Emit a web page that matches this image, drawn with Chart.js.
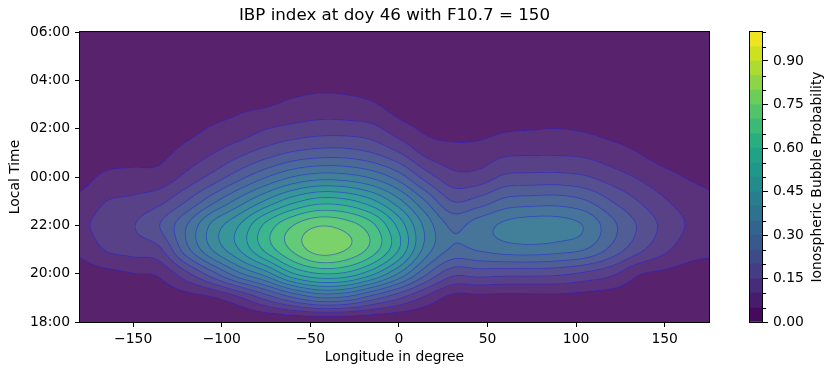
<!DOCTYPE html>
<html>
<head>
<meta charset="utf-8">
<script src="https://cdn.jsdelivr.net/npm/chart.js"></script>
<style>
  html, body { margin: 0; padding: 0; background: #fff; }
  #wrap { position: relative; width: 833px; height: 375px; }
  #main { position: absolute; left: 0; top: 0; }
  #cbar { position: absolute; left: 740px; top: 0; }
</style>
</head>
<body>
<div id="wrap">
  <canvas id="main" width="833" height="375"></canvas>
  <canvas id="cbar" width="93" height="375"></canvas>
</div>
<script>
'use strict';

// grid of the probability field: longitude columns, local time rows (hours, 24 = midnight)
const lonGrid = [-180, -165, -150, -135, -120, -105, -90, -75, -60, -45, -30, -15, 0,
                 15, 30, 45, 60, 75, 90, 105, 120, 135, 150, 165, 180];
const ltGrid = [18, 19, 20, 21, 22, 23, 24, 25, 26, 27, 28, 29, 30];

// bubble probability per local-time row, one value per longitude in lonGrid
const p18 = [0.015, 0.015, 0.015, 0.015, 0.01, 0.01, 0.005, 0.0, 0.0, 0.0, 0.0, 0.0, 0.0, 0.005, 0.015, 0.015, 0.015, 0.015, 0.015, 0.015, 0.015, 0.015, 0.015, 0.015, 0.015];
const p19 = [0.02, 0.025, 0.03, 0.025, 0.03, 0.045, 0.093, 0.168, 0.243, 0.297, 0.286, 0.222, 0.157, 0.088, 0.035, 0.035, 0.033, 0.034, 0.035, 0.03, 0.025, 0.025, 0.02, 0.02, 0.02];
const p20 = [0.03, 0.038, 0.049, 0.059, 0.136, 0.233, 0.34, 0.426, 0.544, 0.598, 0.587, 0.512, 0.394, 0.26, 0.165, 0.17, 0.165, 0.165, 0.16, 0.14, 0.11, 0.055, 0.04, 0.03, 0.03];
const p21 = [0.061, 0.104, 0.12, 0.141, 0.281, 0.404, 0.501, 0.614, 0.708, 0.773, 0.751, 0.678, 0.549, 0.38, 0.292, 0.305, 0.325, 0.33, 0.32, 0.30, 0.235, 0.165, 0.11, 0.07, 0.06];
const p22 = [0.088, 0.125, 0.147, 0.2, 0.297, 0.415, 0.501, 0.614, 0.698, 0.746, 0.727, 0.662, 0.533, 0.385, 0.29, 0.325, 0.36, 0.375, 0.372, 0.345, 0.265, 0.195, 0.135, 0.092, 0.08];
const p23 = [0.061, 0.1, 0.111, 0.136, 0.2, 0.286, 0.372, 0.458, 0.533, 0.576, 0.566, 0.512, 0.415, 0.30, 0.20, 0.22, 0.265, 0.275, 0.277, 0.255, 0.20, 0.15, 0.105, 0.075, 0.058];
const p24 = [0.035, 0.059, 0.066, 0.069, 0.114, 0.168, 0.233, 0.297, 0.351, 0.378, 0.372, 0.34, 0.276, 0.18, 0.118, 0.12, 0.16, 0.165, 0.166, 0.155, 0.125, 0.095, 0.065, 0.045, 0.035];
const p25 = [0.025, 0.03, 0.03, 0.038, 0.066, 0.098, 0.136, 0.174, 0.206, 0.222, 0.222, 0.2, 0.152, 0.087, 0.067, 0.07, 0.09, 0.093, 0.093, 0.088, 0.07, 0.05, 0.03, 0.025, 0.025];
const p26 = [0.02, 0.02, 0.02, 0.025, 0.035, 0.055, 0.071, 0.098, 0.114, 0.125, 0.125, 0.114, 0.071, 0.042, 0.035, 0.035, 0.045, 0.048, 0.05, 0.045, 0.035, 0.03, 0.02, 0.02, 0.02];
const p27 = [0.015, 0.015, 0.015, 0.015, 0.02, 0.03, 0.04, 0.045, 0.06, 0.068, 0.065, 0.055, 0.03, 0.03, 0.025, 0.025, 0.03, 0.03, 0.03, 0.03, 0.025, 0.02, 0.015, 0.015, 0.015];
const p28 = [0.01, 0.01, 0.01, 0.01, 0.015, 0.02, 0.02, 0.025, 0.03, 0.035, 0.035, 0.03, 0.02, 0.02, 0.02, 0.02, 0.02, 0.02, 0.02, 0.02, 0.02, 0.015, 0.01, 0.01, 0.01];
const p29 = [0.01, 0.01, 0.01, 0.01, 0.01, 0.01, 0.015, 0.015, 0.02, 0.02, 0.02, 0.02, 0.015, 0.015, 0.015, 0.015, 0.015, 0.015, 0.015, 0.015, 0.015, 0.01, 0.01, 0.01, 0.01];
const p30 = [0.01, 0.01, 0.01, 0.01, 0.01, 0.01, 0.01, 0.01, 0.015, 0.015, 0.015, 0.015, 0.01, 0.01, 0.01, 0.01, 0.01, 0.01, 0.01, 0.01, 0.01, 0.01, 0.01, 0.01, 0.01];
const probRows = [p18, p19, p20, p21, p22, p23, p24, p25, p26, p27, p28, p29, p30];

const contourLevels = [0.00, 0.05, 0.10, 0.15, 0.20, 0.25, 0.30, 0.35, 0.40, 0.45, 0.50,
                       0.55, 0.60, 0.65, 0.70, 0.75, 0.80, 0.85, 0.90, 0.95, 1.00];

const xTicks = [-150, -100, -50, 0, 50, 100, 150];
const ltTicks = [18, 20, 22, 24, 26, 28, 30];
const ltTickLabels = ['18:00', '20:00', '22:00', '00:00', '02:00', '04:00', '06:00'];
const cbTicks = [0.00, 0.15, 0.30, 0.45, 0.60, 0.75, 0.90];

const titleText = 'IBP index at doy 46 with F10.7 = 150';

// viridis, sampled every 0.05
const viridisStops = ['#440154', '#471365', '#482475', '#463480', '#414487', '#3b528b', '#355f8d',
  '#2f6c8e', '#2a788e', '#25848e', '#21918c', '#1e9c89', '#22a884', '#2fb47c', '#44bf70',
  '#5ec962', '#7ad151', '#9bd93c', '#bddf26', '#dfe318', '#fde725'];

const FILL_ALPHA = 0.9;
const LINE_RGB = [30, 30, 225];
const LINE_ALPHA = 0.55;
const LINE_WIDTH = 0.8;
const FONT = "'DejaVu Sans', sans-serif";

Chart.defaults.font.family = FONT;
Chart.defaults.color = '#000';

const hexToRgb = h => [1, 3, 5].map(i => parseInt(h.slice(i, i + 2), 16));

function viridis(t) {
    const f = Math.min(Math.max(t, 0), 1) * (viridisStops.length - 1);
    const i = Math.min(Math.floor(f), viridisStops.length - 2);
    const a = hexToRgb(viridisStops[i]), b = hexToRgb(viridisStops[i + 1]);
    const u = f - i;
    return a.map((c, k) => c + (b[k] - c) * u);
}

const nBands = contourLevels.length - 1;
const lo = contourLevels[0], hi = contourLevels[nBands];
const bandRgb = [];
for (let i = 0; i < nBands; i++) {
    const mid = (contourLevels[i] + contourLevels[i + 1]) / 2;
    bandRgb.push(viridis((mid - lo) / (hi - lo)));
}
const bandCss = bandRgb.map(c => `rgb(${c.map(Math.round).join(',')})`);
// the filled contours are slightly transparent over white
const bandFill = bandRgb.map(c => c.map(v => v * FILL_ALPHA + 255 * (1 - FILL_ALPHA)));

function catmull(p0, p1, p2, p3, t) {
    const t2 = t * t, t3 = t2 * t;
    return 0.5 * (2 * p1 + (p2 - p0) * t + (2 * p0 - 5 * p1 + 4 * p2 - p3) * t2 + (3 * p1 - p0 - 3 * p2 + p3) * t3);
}

function sampleField(lon, lt) {
    const nx = lonGrid.length, ny = ltGrid.length;
    const fx = (lon - lonGrid[0]) / (lonGrid[1] - lonGrid[0]);
    const fy = (lt - ltGrid[0]) / (ltGrid[1] - ltGrid[0]);
    const ix = Math.min(Math.max(Math.floor(fx), 0), nx - 2);
    const iy = Math.min(Math.max(Math.floor(fy), 0), ny - 2);
    const tx = fx - ix, ty = fy - iy;
    const cx = k => Math.min(Math.max(k, 0), nx - 1);
    const cy = k => Math.min(Math.max(k, 0), ny - 1);
    const col = [];
    for (let j = -1; j <= 2; j++) {
        const r = probRows[cy(iy + j)];
        col.push(catmull(r[cx(ix - 1)], r[cx(ix)], r[cx(ix + 1)], r[cx(ix + 2)], tx));
    }
    return catmull(col[0], col[1], col[2], col[3], ty);
}

const contourPlugin = {
    id: 'contourField',
    beforeDatasetsDraw(chart) {
        const { ctx, chartArea: a, scales: { x, y } } = chart;
        const w = Math.round(a.right - a.left), h = Math.round(a.bottom - a.top);
        const vals = new Float32Array(w * h);
        for (let j = 0; j < h; j++) {
            const lt = y.getValueForPixel(a.top + j + 0.5);
            for (let i = 0; i < w; i++) {
                vals[j * w + i] = sampleField(x.getValueForPixel(a.left + i + 0.5), lt);
            }
        }
        const off = document.createElement('canvas');
        off.width = w; off.height = h;
        const octx = off.getContext('2d');
        const img = octx.createImageData(w, h);
        for (let j = 0; j < h; j++) {
            for (let i = 0; i < w; i++) {
                const k = j * w + i, v = vals[k];
                let b = 0;
                while (b < nBands - 1 && v >= contourLevels[b + 1]) b++;
                let [r, g, bl] = bandFill[b];

                // contour line: distance to nearest level in pixels
                const iL = Math.max(i - 1, 0), iR = Math.min(i + 1, w - 1);
                const jU = Math.max(j - 1, 0), jD = Math.min(j + 1, h - 1);
                const gx = (vals[j * w + iR] - vals[j * w + iL]) / (iR - iL);
                const gy = (vals[jD * w + i] - vals[jU * w + i]) / (jD - jU);
                const grad = Math.hypot(gx, gy) || 1e-9;
                let d = Infinity;
                if (b > 0) d = Math.min(d, Math.abs(v - contourLevels[b]) / grad);
                if (b + 1 < nBands) d = Math.min(d, Math.abs(contourLevels[b + 1] - v) / grad);
                const cov = Math.min(1, Math.max(0, LINE_WIDTH / 2 + 0.5 - d)) * LINE_ALPHA;
                r = r * (1 - cov) + LINE_RGB[0] * cov;
                g = g * (1 - cov) + LINE_RGB[1] * cov;
                bl = bl * (1 - cov) + LINE_RGB[2] * cov;

                const p = k * 4;
                img.data[p] = r; img.data[p + 1] = g; img.data[p + 2] = bl; img.data[p + 3] = 255;
            }
        }
        octx.putImageData(img, 0, 0);
        ctx.drawImage(off, a.left, a.top, w, h);
    },
    afterDraw(chart) {
        const { ctx, chartArea: a } = chart;
        ctx.save();
        ctx.strokeStyle = '#000';
        ctx.lineWidth = 1;
        ctx.strokeRect(a.left - 0.5, a.top - 0.5, a.right - a.left + 1, a.bottom - a.top + 1);
        ctx.restore();
    }
};

const fmtLon = v => (v < 0 ? '\u2212' + Math.abs(v) : String(v));
const tickFont = { family: FONT, size: 13.9 };

new Chart(document.getElementById('main'), {
    type: 'scatter',
    data: { datasets: [] },
    options: {
        responsive: false,
        animation: false,
        events: [],
        layout: { padding: { left: 0, right: 124, top: 0, bottom: 0 } },
        plugins: {
            legend: { display: false },
            tooltip: { enabled: false },
            title: {
                display: true, text: titleText, fullSize: false, color: '#000',
                font: { family: FONT, size: 16.7, weight: 'normal' },
                padding: { top: 6, bottom: 6 }
            }
        },
        scales: {
            x: {
                type: 'linear', min: -180, max: 175,
                afterBuildTicks: s => { s.ticks = xTicks.map(v => ({ value: v })); },
                afterFit: s => { s.height = 53; },
                ticks: { callback: v => fmtLon(v), font: tickFont, color: '#000', padding: 4, maxRotation: 0, autoSkip: false },
                grid: { drawOnChartArea: false, tickLength: 5, color: '#000', lineWidth: 1 },
                border: { display: false },
                title: { display: true, text: 'Longitude in degree', color: '#000', font: tickFont, padding: { top: 0, bottom: 9.5 } }
            },
            y: {
                type: 'linear', min: 18, max: 30,
                afterBuildTicks: s => { s.ticks = ltTicks.map(v => ({ value: v })); },
                afterFit: s => { s.width = 80; },
                ticks: { callback: (v, i) => ltTickLabels[i], font: tickFont, color: '#000', padding: 5, autoSkip: false },
                grid: { drawOnChartArea: false, tickLength: 5, color: '#000', lineWidth: 1 },
                border: { display: false },
                title: { display: true, text: 'Local Time', color: '#000', font: tickFont, padding: { top: 7, bottom: 0 } }
            }
        }
    },
    plugins: [contourPlugin]
});

// colorbar: one stacked bar, one segment per contour band
const minorCb = contourLevels.filter(v => v > 0 && !cbTicks.some(t => Math.abs(t - v) < 1e-9));

const colorbarPlugin = {
    id: 'colorbarExtras',
    afterDraw(chart) {
        const { ctx, chartArea: a, scales: { y } } = chart;
        ctx.save();
        ctx.strokeStyle = '#000';
        ctx.lineWidth = 1;
        ctx.beginPath();
        minorCb.forEach(v => {
            const py = Math.round(y.getPixelForValue(v)) + 0.5;
            ctx.moveTo(a.right, py);
            ctx.lineTo(a.right + 3, py);
        });
        ctx.stroke();
        ctx.strokeRect(a.left + 0.5, a.top - 0.5, a.right - a.left - 1, a.bottom - a.top + 1);
        ctx.translate(77, (a.top + a.bottom) / 2);
        ctx.rotate(-Math.PI / 2);
        ctx.fillStyle = '#000';
        ctx.font = `13.9px ${FONT}`;
        ctx.textAlign = 'center';
        ctx.textBaseline = 'middle';
        ctx.fillText('Ionospheric Bubble Probability', 0, 0);
        ctx.restore();
    }
};

new Chart(document.getElementById('cbar'), {
    type: 'bar',
    data: {
        labels: [''],
        datasets: bandCss.map((c, i) => ({
            data: [contourLevels[i + 1] - contourLevels[i]],
            backgroundColor: c,
            borderWidth: 0,
            barPercentage: 1,
            categoryPercentage: 1
        }))
    },
    options: {
        responsive: false,
        animation: false,
        events: [],
        layout: { padding: { left: 9, right: 0, top: 32, bottom: 53 } },
        plugins: { legend: { display: false }, tooltip: { enabled: false } },
        scales: {
            x: { display: false, stacked: true },
            y: {
                stacked: true, position: 'right', min: 0, max: 1,
                afterBuildTicks: s => { s.ticks = cbTicks.map(v => ({ value: v })); },
                afterFit: s => { s.width = 70; },
                ticks: { callback: v => v.toFixed(2), font: tickFont, color: '#000', padding: 5, autoSkip: false },
                grid: { drawOnChartArea: false, tickLength: 5, color: '#000', lineWidth: 1 },
                border: { display: false }
            }
        }
    },
    plugins: [colorbarPlugin]
});
</script>
</body>
</html>
